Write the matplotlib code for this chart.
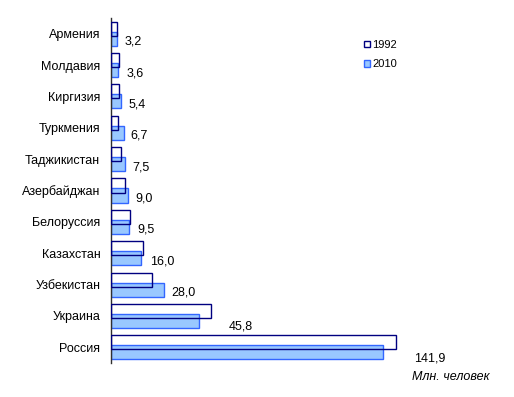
import matplotlib
matplotlib.use('Agg')
import matplotlib.pyplot as plt
from matplotlib.patches import Patch
import numpy as np

plt.rcParams['font.family'] = ['Liberation Sans', 'DejaVu Sans']

countries = ['Армения', 'Молдавия', 'Киргизия', 'Туркмения', 'Таджикистан',
             'Азербайджан', 'Белоруссия', 'Казахстан', 'Узбекистан', 'Украина', 'Россия']
pop_1992 = [3.5, 4.4, 4.5, 3.9, 5.5, 7.7, 10.2, 16.9, 21.5, 52.1, 148.7]
pop_2010 = [3.2, 3.6, 5.4, 6.7, 7.5, 9.0, 9.5, 16.0, 28.0, 45.8, 141.9]
labels_2010 = ['3,2', '3,6', '5,4', '6,7', '7,5', '9,0', '9,5', '16,0', '28,0', '45,8', '141,9']

W, H = 514, 397
fig = plt.figure(figsize=(W / 100, H / 100), dpi=100)
ax = fig.add_axes([110.7 / W, 1 - 363 / H, (500 - 110.7) / W, (363 - 18) / H])

y = np.arange(len(countries))
bar_h = 0.45
shift = 0.16

navy = '#000080'
fill_2010 = '#99c8ff'
edge_2010 = '#3366ff'

ax.barh(y + shift, pop_2010, height=bar_h, color=fill_2010, edgecolor=edge_2010,
        linewidth=1, zorder=2)
ax.barh(y - shift, pop_1992, height=bar_h, facecolor='none', edgecolor=navy,
        linewidth=1, zorder=3)

# value labels sit a bit below the 2010 bar, past the longer of the two bars
for i in range(len(countries)):
    end = max(pop_1992[i], pop_2010[i])
    dx, dy = 7, -3
    if pop_1992[i] - pop_2010[i] > 3:
        dx, dy = 18, -6
    ax.annotate(labels_2010[i], xy=(end, y[i] + shift), xytext=(dx * 0.72, dy * 0.72),
                textcoords='offset points', ha='left', va='center', fontsize=9)

ax.set_xlim(0, (500 - 110.7) / 1.921)
ax.set_ylim(len(countries) - 0.5, -0.5)
ax.set_yticks(y)
ax.set_yticklabels(countries, fontsize=9)
ax.tick_params(axis='y', length=0, pad=7.5)
ax.set_xticks([])
for side in ['top', 'right', 'bottom']:
    ax.spines[side].set_visible(False)
ax.spines['left'].set_color('#303030')
ax.spines['left'].set_linewidth(1)

handles = [Patch(facecolor='white', edgecolor=navy, linewidth=1, label='1992'),
           Patch(facecolor=fill_2010, edgecolor=edge_2010, linewidth=1, label='2010')]
fig.legend(handles=handles, loc='upper left', bbox_to_anchor=(364 / W, 1 - 40 / H),
           frameon=False, fontsize=8, handlelength=0.55, handleheight=0.55,
           handletextpad=0.2, labelspacing=0.85, borderpad=0, borderaxespad=0)

fig.text(489 / W, 1 - 377 / H, 'Млн. человек', ha='right', va='center',
         fontsize=9, style='italic')

fig.savefig('out.png', dpi=100)
